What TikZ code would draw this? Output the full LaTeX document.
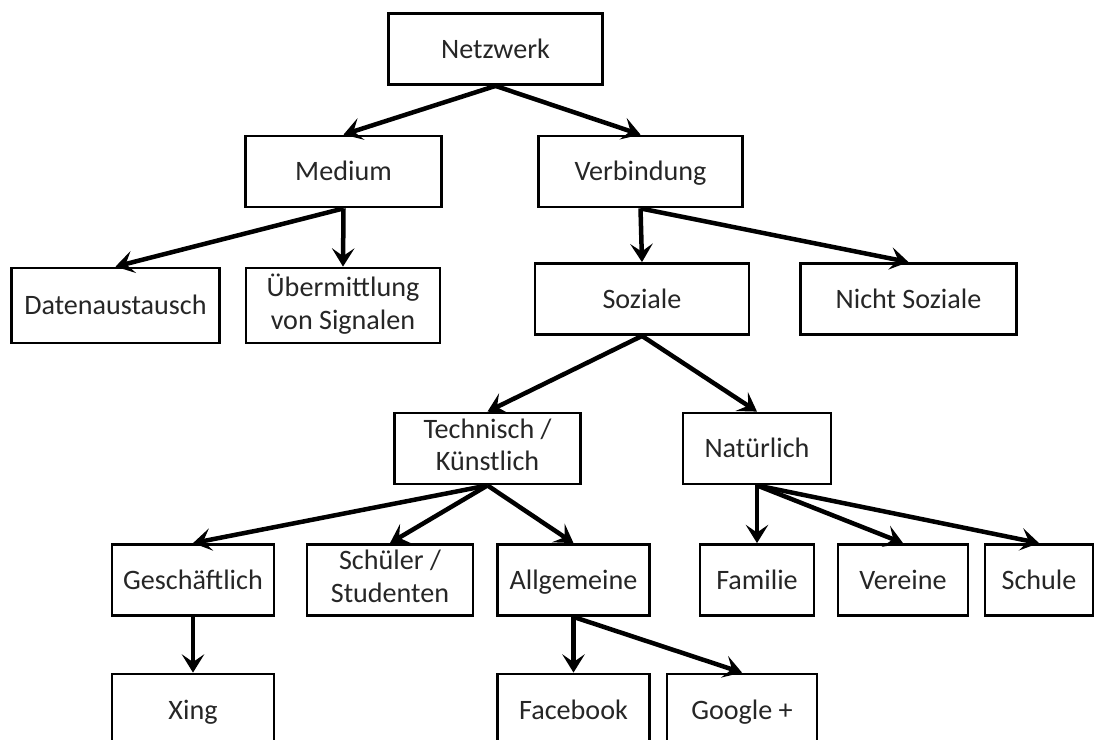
\documentclass[tikz,border=0pt]{standalone}
\usepackage{fontspec}
\setmainfont{Carlito}
\usetikzlibrary{arrows.meta}
\newcommand\boxstrut{\rule[-0.28em]{0pt}{1.22em}}

\begin{document}
\begin{tikzpicture}[x=0.025cm, y=-0.025cm, >={Stealth[length=13pt,width=16pt,inset=5.5pt]},
    box/.style={draw, line width=2pt, minimum height=1.775cm, align=center, inner sep=2pt,
        font=\fontsize{20}{23}\selectfont, text=black!85,
        execute at begin node=\boxstrut, execute at end node=\boxstrut},
    pfeil/.style={->, line width=3.2pt}]
    % frame, 1 unit = 1 px of the sheet
    \fill[white] (0,0) rectangle (1097,739);
    \useasboundingbox (0,0) rectangle (1097,739);
    \clip (0,0) rectangle (1097,739);

    % top levels
    \node[box, minimum width=5.33cm] (netz) at (495.5,49) {Netzwerk};
    \node[box, minimum width=4.88cm] (medium) at (343.5,171.5) {Medium};
    \node[box, minimum width=5.08cm] (verb) at (640.5,171.5) {Verbindung};

    \node[box, minimum width=5.18cm, minimum height=1.875cm] (daten) at (115.5,305.5) {Datenaustausch};
    \node[box, minimum width=4.85cm, minimum height=1.875cm] (signal) at (343,305.5) {Übermittlung\\von Signalen};
    \node[box, minimum width=5.35cm] (sozial) at (642,299) {Soziale};
    \node[box, minimum width=5.38cm] (nicht) at (908.5,299) {Nicht Soziale};

    \node[box, minimum width=4.63cm] (technik) at (487.5,448.5) {Technisch /\\Künstlich};
    \node[box, minimum width=3.7cm] (natur) at (757,448.5) {Natürlich};

    % leaves
    \node[box, minimum width=4.05cm] (geschaeft) at (193,580) {Geschäftlich};
    \node[box, minimum width=4.15cm] (schueler) at (390,580) {Schüler /\\Studenten};
    \node[box, minimum width=3.78cm] (allg) at (573.5,580) {Allgemeine};
    \node[box, minimum width=2.85cm] (familie) at (757,580) {Familie};
    \node[box, minimum width=3.25cm] (verein) at (903,580) {Vereine};
    \node[box, minimum width=2.7cm] (schule) at (1039,580) {Schule};

    \node[box, minimum width=4.05cm, minimum height=1.8cm] (xing) at (193,710) {Xing};
    \node[box, minimum width=3.78cm, minimum height=1.8cm] (facebook) at (573.5,710) {Facebook};
    \node[box, minimum width=3.75cm, minimum height=1.8cm] (google) at (742,710) {Google +};

    % arrows
    \draw[pfeil] (netz.south) -- (medium.north);
    \draw[pfeil] (netz.south) -- (verb.north);
    \draw[pfeil] (medium.south) -- (daten.north);
    \draw[pfeil] (medium.south) -- (signal.north);
    \draw[pfeil] (verb.south) -- (sozial.north);
    \draw[pfeil] (verb.south) -- (nicht.north);
    \draw[pfeil] (sozial.south) -- (technik.north);
    \draw[pfeil] (sozial.south) -- (natur.north);
    \draw[pfeil] (technik.south) -- (geschaeft.north);
    \draw[pfeil] (technik.south) -- (schueler.north);
    \draw[pfeil] (technik.south) -- (allg.north);
    \draw[pfeil] (natur.south) -- (familie.north);
    \draw[pfeil] (natur.south) -- (verein.north);
    \draw[pfeil] (natur.south) -- (schule.north);
    \draw[pfeil] (geschaeft.south) -- (xing.north);
    \draw[pfeil] (allg.south) -- (facebook.north);
    \draw[pfeil] (allg.south) -- (google.north);
\end{tikzpicture}
\end{document}
